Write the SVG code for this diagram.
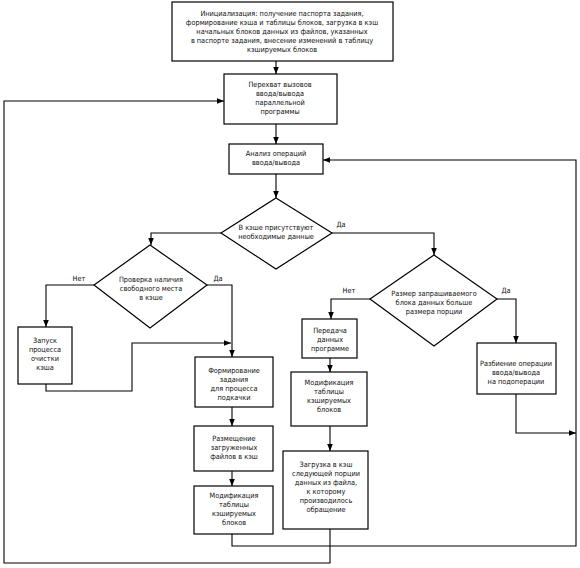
<svg xmlns="http://www.w3.org/2000/svg" width="580" height="568" viewBox="0 0 580 568">
<style>
.b{fill:#fff;stroke:#000;stroke-width:1.2}
.c{fill:none;stroke:#000;stroke-width:1.1}
text{font-family:"DejaVu Sans Condensed","Liberation Sans Narrow","Liberation Sans",sans-serif;font-size:7.3px;fill:#111;text-anchor:middle}
</style>
<defs>
<marker id="a" viewBox="0 0 10 10" refX="10" refY="5" markerWidth="7" markerHeight="7" orient="auto" markerUnits="userSpaceOnUse">
<path d="M0,1 L10,5 L0,9 Z" fill="#000"/>
</marker>
</defs>
<rect width="580" height="568" fill="#fff"/>
<g id="connectors">
<path class="c" d="M276,61 V74" marker-end="url(#a)"/>
<path class="c" d="M276,124 V144" marker-end="url(#a)"/>
<path class="c" d="M276,174 V198" marker-end="url(#a)"/>
<path class="c" d="M221,233 H151 V245" marker-end="url(#a)"/>
<path class="c" d="M332,233 H434 V255" marker-end="url(#a)"/>
<path class="c" d="M94,285 H46 V327" marker-end="url(#a)"/>
<path class="c" d="M207,285 H232 V357" marker-end="url(#a)"/>
<path class="c" d="M46,384 V391 H132 V343 H231" marker-end="url(#a)"/>
<path class="c" d="M232,407 V426" marker-end="url(#a)"/>
<path class="c" d="M232,471 V486" marker-end="url(#a)"/>
<path class="c" d="M232,534 V546 H576 V160 H323" marker-end="url(#a)"/>
<path class="c" d="M370,299 H331 V319" marker-end="url(#a)"/>
<path class="c" d="M330,358 V372" marker-end="url(#a)"/>
<path class="c" d="M330,426 V451" marker-end="url(#a)"/>
<path class="c" d="M330,529 V563 H4 V101 H224" marker-end="url(#a)"/>
<path class="c" d="M497,299 H516 V343" marker-end="url(#a)"/>
<path class="c" d="M516,394 V433 H576" marker-end="url(#a)"/>
<text x="341" y="227">Да</text>
<text x="79" y="281">Нет</text>
<text x="218" y="281">Да</text>
<text x="349" y="293">Нет</text>
<text x="506" y="293">Да</text>
</g>
<g id="init">
<rect class="b" x="172" y="2" width="221" height="59"/>
<text x="282" y="16">Инициализация: получение паспорта задания,</text>
<text x="282" y="25">формирование кэша и таблицы блоков, загрузка в кэш</text>
<text x="282" y="34">начальных блоков данных из файлов, указанных</text>
<text x="282" y="43">в паспорте задания, внесение изменений в таблицу</text>
<text x="282" y="52">кэшируемых блоков</text>
</g>
<g id="intercept">
<rect class="b" x="224" y="74" width="113" height="50"/>
<text x="280" y="87">Перехват вызовов</text>
<text x="280" y="96">ввода/вывода</text>
<text x="280" y="105">параллельной</text>
<text x="280" y="114">программы</text>
</g>
<g id="analyze">
<rect class="b" x="229" y="144" width="94" height="30"/>
<text x="276" y="156">Анализ операций</text>
<text x="276" y="165">ввода/вывода</text>
</g>
<g id="d1">
<polygon class="b" points="276,198 332,233 276,269 221,233"/>
<text x="276" y="230">В кэше присутствуют</text>
<text x="276" y="239">необходимые данные</text>
</g>
<g id="d2">
<polygon class="b" points="150,245 207,285 150,328 94,285"/>
<text x="151" y="282">Проверка наличия</text>
<text x="151" y="291">свободного места</text>
<text x="151" y="300">в кэше</text>
</g>
<g id="d3">
<polygon class="b" points="434,255 497,299 434,346 370,299"/>
<text x="434" y="296">Размер запрашиваемого</text>
<text x="434" y="305">блока данных больше</text>
<text x="434" y="314">размера порции</text>
</g>
<g id="cleanup">
<rect class="b" x="18" y="327" width="54" height="57"/>
<text x="45" y="343">Запуск</text>
<text x="45" y="352">процесса</text>
<text x="45" y="361">очистки</text>
<text x="45" y="370">кэша</text>
</g>
<g id="formjob">
<rect class="b" x="195" y="357" width="78" height="50"/>
<text x="234" y="373">Формирование</text>
<text x="234" y="382">задания</text>
<text x="234" y="391">для процесса</text>
<text x="234" y="400">подкачки</text>
</g>
<g id="place">
<rect class="b" x="194" y="426" width="79" height="45"/>
<text x="234" y="441">Размещение</text>
<text x="234" y="450">загруженных</text>
<text x="234" y="459">файлов в кэш</text>
</g>
<g id="modify1">
<rect class="b" x="194" y="486" width="79" height="48"/>
<text x="234" y="498">Модификация</text>
<text x="234" y="507">таблицы</text>
<text x="234" y="516">кэшируемых</text>
<text x="234" y="525">блоков</text>
</g>
<g id="transfer">
<rect class="b" x="302" y="319" width="55" height="39"/>
<text x="330" y="333">Передача</text>
<text x="330" y="342">данных</text>
<text x="330" y="351">программе</text>
</g>
<g id="modify2">
<rect class="b" x="291" y="372" width="76" height="54"/>
<text x="329" y="385">Модификация</text>
<text x="329" y="394">таблицы</text>
<text x="329" y="403">кэшируемых</text>
<text x="329" y="412">блоков</text>
</g>
<g id="load">
<rect class="b" x="283" y="451" width="85" height="78"/>
<text x="326" y="467">Загрузка в кэш</text>
<text x="326" y="476">следующей порции</text>
<text x="326" y="485">данных из файла,</text>
<text x="326" y="494">к которому</text>
<text x="326" y="503">производилось</text>
<text x="326" y="512">обращение</text>
</g>
<g id="split">
<rect class="b" x="477" y="343" width="79" height="51"/>
<text x="516" y="366">Разбиение операции</text>
<text x="516" y="375">ввода/вывода</text>
<text x="516" y="384">на подоперации</text>
</g>
</svg>
